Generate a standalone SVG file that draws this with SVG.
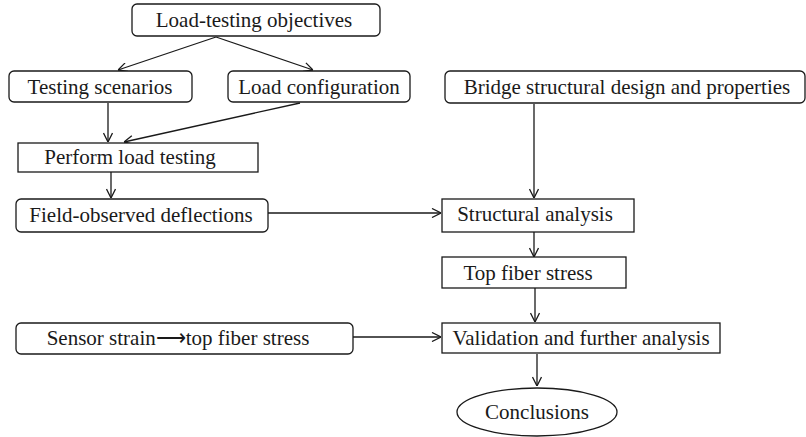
<svg xmlns="http://www.w3.org/2000/svg" width="806" height="437" viewBox="0 0 806 437">
<defs>
<marker id="arr" viewBox="0 0 10 10" refX="10" refY="5" markerWidth="10" markerHeight="10" markerUnits="userSpaceOnUse" orient="auto">
<path d="M1,0.5 L10,5 L1,9.5" fill="none" stroke="#1a1a1a" stroke-width="1.3"/>
</marker>
</defs>
<style>
.box{fill:#fff;stroke:#1a1a1a;stroke-width:1.3}
.t{font-family:"Liberation Serif","Times New Roman",serif;font-size:21px;fill:#1a1a1a;text-anchor:middle}
.c{stroke:#1a1a1a;stroke-width:1.3;fill:none;marker-end:url(#arr)}
</style>
<rect width="806" height="437" fill="#fff"/>
<g id="connectors">
<line class="c" x1="216" y1="37" x2="118" y2="70"/>
<line class="c" x1="216" y1="37" x2="313" y2="70"/>
<line class="c" x1="108" y1="103" x2="108" y2="142"/>
<line class="c" x1="300" y1="103" x2="124" y2="142"/>
<line class="c" x1="111" y1="172" x2="111" y2="198"/>
<line class="c" x1="268" y1="213" x2="441" y2="213"/>
<line class="c" x1="534" y1="104" x2="534" y2="198"/>
<line class="c" x1="534" y1="232" x2="534" y2="257"/>
<line class="c" x1="535" y1="288" x2="535" y2="322"/>
<line class="c" x1="353" y1="337" x2="441" y2="337"/>
<line class="c" x1="537" y1="354" x2="537" y2="386"/>
</g>
<g id="objectives"><rect class="box" x="132" y="4" width="248" height="32" rx="5"/><text class="t" x="254" y="27">Load-testing objectives</text></g>
<g id="scenarios"><rect class="box" x="9" y="71" width="183" height="31" rx="5"/><text class="t" x="100" y="94">Testing scenarios</text></g>
<g id="loadconfig"><rect class="box" x="228" y="71" width="182" height="31" rx="5"/><text class="t" x="319" y="94">Load configuration</text></g>
<g id="perform"><rect class="box" x="18" y="143" width="240" height="29"/><text class="t" x="130" y="164">Perform load testing</text></g>
<g id="field"><rect class="box" x="16" y="199" width="252" height="33" rx="5"/><text class="t" x="141" y="222">Field-observed deflections</text></g>
<g id="bridge"><rect class="box" x="445" y="71" width="360" height="32" rx="5"/><text class="t" x="627" y="94">Bridge structural design and properties</text></g>
<g id="structural"><rect class="box" x="442" y="199" width="192" height="33"/><text class="t" x="535" y="221">Structural analysis</text></g>
<g id="topfiber"><rect class="box" x="442" y="257" width="184" height="31"/><text class="t" x="528" y="280">Top fiber stress</text></g>
<g id="sensor"><rect class="box" x="16" y="323" width="337" height="31" rx="5"/><text class="t" x="178" y="345">Sensor strain⟶top fiber stress</text></g>
<g id="validation"><rect class="box" x="442" y="323" width="278" height="30"/><text class="t" x="581" y="345">Validation and further analysis</text></g>
<g id="conclusions"><ellipse class="box" cx="537" cy="412" rx="80" ry="24"/><text class="t" x="537" y="419">Conclusions</text></g>
</svg>
